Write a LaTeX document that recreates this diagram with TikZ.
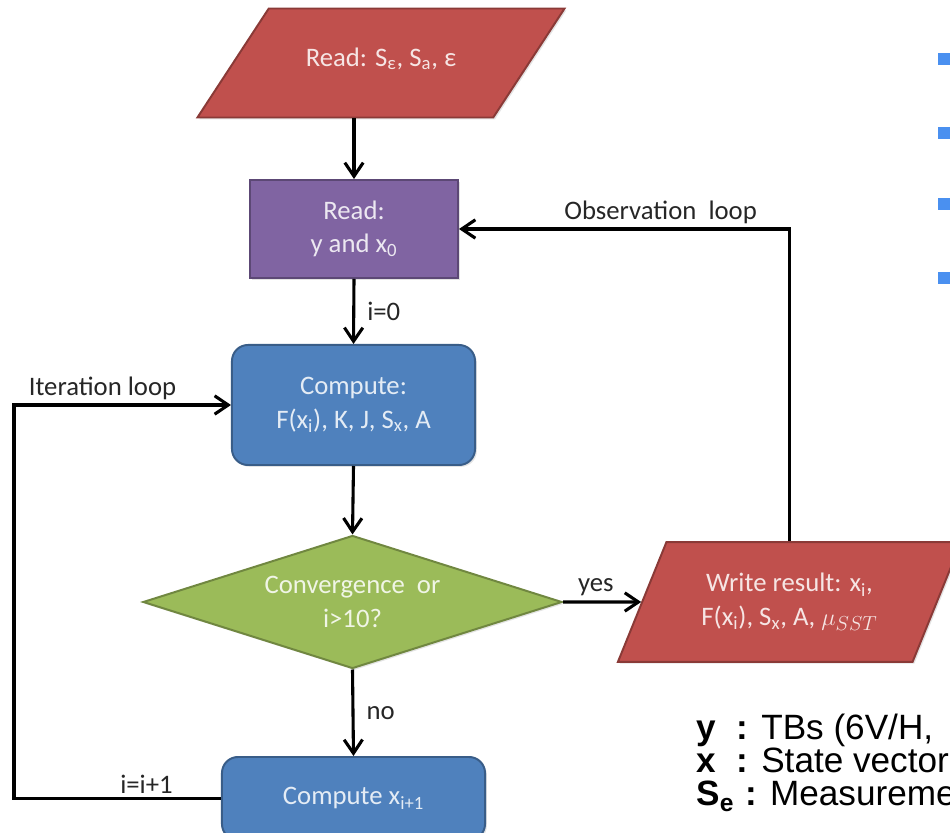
\documentclass[tikz,border=0pt]{standalone}
\usepackage{fontspec}
\setmainfont{Carlito}
\newfontfamily\legendfont{Liberation Sans}
\usetikzlibrary{shapes.geometric,arrows.meta,shadows}

\definecolor{ioRed}{HTML}{C0504D}
\definecolor{readPurple}{HTML}{8064A2}
\definecolor{stepBlue}{HTML}{4F81BD}
\definecolor{testGreen}{HTML}{9BBB59}
\definecolor{bulletBlue}{HTML}{4A90F0}

\begin{document}
\begin{tikzpicture}[x=0.025cm,y=-0.025cm,line width=2.2pt,
        >={Straight Barb[length=0.34cm,width=0.46cm]},
        chart node/.style={draw=#1!72!black,fill=#1,line width=1.4pt,
            text=white!85!#1,align=center,inner sep=0pt,
            font=\fontsize{19}{24}\selectfont,
            drop shadow={opacity=0.22,shadow xshift=1.3pt,shadow yshift=-1.3pt}},
        io node/.style={chart node=ioRed,trapezium,trapezium stretches body},
        label node/.style={font=\fontsize{19}{24}\selectfont,text=black!85,inner sep=2.5pt},
        legend node/.style={font=\legendfont\fontsize{25}{30}\selectfont,anchor=base west,inner sep=0pt}]

        \useasboundingbox (0,0) rectangle (950,833);
        \clip (0,0) rectangle (950,833);

        % Define vertices
        \node[io node,trapezium left angle=56.8,trapezium right angle=123.2,
            text height=0.7em,text depth=0.25em,inner ysep=34pt,minimum width=9.175cm]
            (readS) at (381,63) {Read: S\textsubscript{ε}, S\textsubscript{a}, ε};
        \node[chart node=readPurple,minimum width=5.2cm,minimum height=2.45cm]
            (readY) at (354,229) {Read:\\y and x\textsubscript{0}};
        \node[chart node=stepBlue,rounded corners=0.4cm,minimum width=6.075cm,minimum height=3cm]
            (comp) at (353.5,405) {Compute:\\F(x\textsubscript{i}), K, J, S\textsubscript{x}, A};
        \node[chart node=testGreen,diamond,aspect=3.15,minimum width=10.475cm,minimum height=3.325cm]
            (conv) at (352.5,602) {Convergence\ \ or\\i>10?};
        \node[io node,trapezium left angle=67.95,trapezium right angle=112.05,
            inner ysep=22pt,minimum width=8.575cm]
            (writeR) at (789.5,602) {Write result: x\textsubscript{i},\\F(x\textsubscript{i}), S\textsubscript{x}, A, $\mu_{SST}$};
        \node[chart node=stepBlue,rounded corners=0.4cm,minimum width=6.575cm,minimum height=2.075cm]
            (compX) at (353.5,798.5) {Compute x\textsubscript{i+1}};
        \coordinate (loopLeft) at (14,0);

        % Draw edges
        \path[->,every node/.style={label node}]
            (readY.north |- readS.south) edge (readY.north)
            (readY.south) edge node[right,xshift=6pt] {i=0} (comp.north)
            (comp.south) edge (conv.north)
            (conv.east) edge node[above,yshift=1pt,pos=0.42] {yes} (writeR.west)
            (conv.south) edge node[right,xshift=6pt] {no} (compX.north);

        % Loops
        \draw[->] (writeR.north) |- node[label node,pos=0.695,above] {Observation\ \ loop} (readY.east);
        \draw[->] (compX.west) -- node[label node,pos=0.36,above] {i=i+1} (compX.west -| loopLeft)
            |- node[label node,pos=0.704,above] {Iteration loop} (comp.west);

        % Legend
        \node[legend node] (legY) at (695,740) {\makebox[1.0cm][l]{\textbf{y}}\textbf{:} TBs (6V/H,};
        \node[legend node] (legX) at (695,773) {\makebox[1.0cm][l]{\textbf{x}}\textbf{:} State vector};
        \node[legend node] (legS) at (695,806) {\makebox[1.22cm][l]{\textbf{S\textsubscript{e}}}\textbf{:} Measureme};

        % Bullets
        \foreach \by in {59,133,204,278}
            \fill[bulletBlue] (938,\by-6) rectangle ++(14,12);

\end{tikzpicture}
\end{document}
